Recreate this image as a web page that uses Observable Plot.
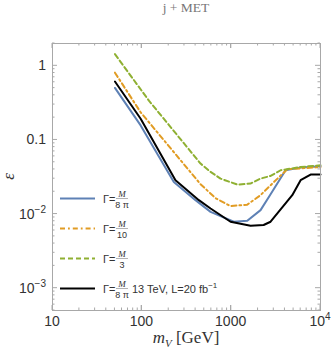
<!DOCTYPE html>
<html><head><meta charset="utf-8">
<script src="https://cdn.jsdelivr.net/npm/d3@7"></script>
<script src="https://cdn.jsdelivr.net/npm/@observablehq/plot@0.6"></script>
<style>body{margin:0;background:#fff} svg{display:block}</style>
</head><body><div id="chart"></div>
<script>
// Data (m_V in GeV, epsilon)
const massBlue = [50, 97, 228, 399, 588, 1072, 1514, 2133, 2762, 4064, 5988, 10000];
const epsBlue  = [0.503, 0.157, 0.0271, 0.0154, 0.0107, 0.00788, 0.00813, 0.0113, 0.0185, 0.0390, 0.0424, 0.0441];
const massOrange = [50, 97, 454, 668, 984, 1514, 2133, 2762, 4250, 10000];
const epsOrange  = [0.808, 0.236, 0.0253, 0.0164, 0.0128, 0.0134, 0.0180, 0.0245, 0.0402, 0.0431];
const massGreen = [50, 120, 454, 588, 760, 1169, 1648, 2133, 2762, 3575, 5988, 10000];
const epsGreen  = [1.436, 0.339, 0.048, 0.037, 0.0301, 0.0250, 0.0258, 0.0301, 0.0327, 0.0390, 0.0431, 0.0455];
const massBlack = [50, 97, 238, 435, 588, 984, 1648, 2307, 2762, 4830, 5988, 7743, 10000];
const epsBlack  = [0.614, 0.193, 0.0286, 0.0154, 0.0119, 0.00788, 0.00697, 0.00712, 0.00788, 0.0180, 0.0286, 0.0341, 0.0341];

const xTicks = [10, 100, 1000, 10000];
const xTickLabels = [["10",""], ["100",""], ["1000",""], ["10","4"]];
const yTicks = [1, 0.1, 0.01, 0.001];
const yTickLabels = [["1",""], ["0.1",""], ["10","\u22122"], ["10","\u22123"]];

const seriesNames = ["w8pi", "w10", "w3", "w8pi13"];
const seriesColors = ["#5E81B5", "#E19C24", "#8FB032", "#000000"];
const seriesDash = [null, "5,3,1.8,3", "5,3", null];
const legendDen = ["8 \u03C0", "10", "3", "8 \u03C0"];
const legendExtra = ["", "", "", "13 TeV, L=20 fb"];

const seriesMass = [massBlue, massOrange, massGreen, massBlack];
const seriesEps = [epsBlue, epsOrange, epsGreen, epsBlack];
const rows = seriesNames.flatMap((s, j) => seriesMass[j].map((m, i) => ({s, m, e: seriesEps[j][i]})));

const W = 332, H = 356, ML = 52, MR = 12, MT = 43, MB = 46;
const plot = Plot.plot({
  width: W, height: H, marginLeft: ML, marginRight: MR, marginTop: MT, marginBottom: MB,
  style: {background: "#fff"},
  x: {type: "log", domain: [10, 10000], axis: null},
  y: {type: "log", domain: [5e-4, 2], axis: null},
  marks: [
    ...seriesNames.map((s, j) => Plot.line(rows.filter(d => d.s === s), {
      x: "m", y: "e", stroke: seriesColors[j], strokeWidth: 2,
      strokeDasharray: seriesDash[j], strokeLinejoin: "round"
    })),
    Plot.frame({stroke: "#a8a8a8", strokeWidth: 1})
  ]
});
document.getElementById("chart").appendChild(plot);

const svg = d3.select(plot);
const sx = plot.scale("x"), sy = plot.scale("y");
const x0 = ML, x1 = W - MR, y0 = MT, y1 = H - MB;
const tg = svg.append("g").attr("stroke", "#a8a8a8").attr("stroke-width", 1);
for (const d of [10, 100, 1000]) for (let k = 1; k <= 10; k++) {
  const v = d * k; if (v > 10000) continue;
  const px = sx.apply(v), len = (k === 1 || k === 10) ? 5 : 2.5;
  tg.append("line").attr("x1", px).attr("x2", px).attr("y1", y1).attr("y2", y1 - len);
  tg.append("line").attr("x1", px).attr("x2", px).attr("y1", y0).attr("y2", y0 + len);
}
for (const d of [1e-4, 1e-3, 1e-2, 1e-1, 1]) for (let k = 1; k <= 9; k++) {
  const v = d * k; if (v < 5e-4 || v > 2) continue;
  const py = sy.apply(v), len = k === 1 ? 5 : 2.5;
  tg.append("line").attr("y1", py).attr("y2", py).attr("x1", x0).attr("x2", x0 + len);
  tg.append("line").attr("y1", py).attr("y2", py).attr("x1", x1).attr("x2", x1 - len);
}
const sans = "'Liberation Sans', Arial, sans-serif";
const serif = "'Liberation Serif', 'Times New Roman', serif";
xTicks.forEach((v, i) => {
  const t = svg.append("text").attr("x", sx.apply(v)).attr("y", 326).attr("text-anchor", "middle")
    .attr("font-family", sans).attr("font-size", 14).attr("fill", "#333");
  t.append("tspan").text(xTickLabels[i][0]);
  if (xTickLabels[i][1]) t.append("tspan").attr("dy", -6).attr("font-size", 10).text(xTickLabels[i][1]);
});
yTicks.forEach((v, i) => {
  const t = svg.append("text").attr("x", 46).attr("y", sy.apply(v) + 5).attr("text-anchor", "end")
    .attr("font-family", sans).attr("font-size", 14).attr("fill", "#333");
  t.append("tspan").text(yTickLabels[i][0]);
  if (yTickLabels[i][1]) t.append("tspan").attr("dy", -6).attr("font-size", 10).text(yTickLabels[i][1]);
});
svg.append("text").attr("x", (x0 + x1) / 2).attr("y", 12).attr("text-anchor", "middle")
  .attr("font-family", serif).attr("font-size", 13.5).attr("fill", "#777").text("j + MET");
const xl = svg.append("text").attr("x", (x0 + x1) / 2).attr("y", 343).attr("text-anchor", "middle")
  .attr("font-family", serif).attr("font-size", 17).attr("fill", "#333");
xl.append("tspan").attr("font-style", "italic").text("m");
xl.append("tspan").attr("font-style", "italic").attr("font-size", 11).attr("dy", 4).text("V");
xl.append("tspan").attr("dy", -4).text(" [GeV]");
svg.append("text").attr("transform", `translate(14,${(y0 + y1) / 2}) rotate(-90)`).attr("text-anchor", "middle")
  .attr("font-family", serif).attr("font-style", "italic").attr("font-size", 17).attr("fill", "#333").text("\u03B5");
const lg = svg.append("g");
seriesNames.forEach((s, j) => {
  const ly = 198.5 + 30 * j;
  lg.append("line").attr("x1", 60).attr("x2", 95).attr("y1", ly).attr("y2", ly)
    .attr("stroke", seriesColors[j]).attr("stroke-width", 2).attr("stroke-dasharray", seriesDash[j]);
  lg.append("text").attr("x", 103).attr("y", ly + 4).attr("text-anchor", "start").attr("font-family", sans).attr("font-size", 11)
    .attr("fill", "#333").text("\u0393=");
  const fx = 122;
  lg.append("text").attr("x", fx).attr("y", ly - 1.5).attr("text-anchor", "middle").attr("font-family", serif)
    .attr("font-style", "italic").attr("font-size", 9).attr("fill", "#333").text("M");
  lg.append("line").attr("x1", fx - 6).attr("x2", fx + 6).attr("y1", ly).attr("y2", ly)
    .attr("stroke", "#666").attr("stroke-width", 0.5);
  lg.append("text").attr("x", fx).attr("y", ly + 9).attr("text-anchor", "middle")
    .attr("font-family", sans).attr("font-size", 9).attr("fill", "#333").text(legendDen[j]);
  if (legendExtra[j]) {
    const t = lg.append("text").attr("x", 132).attr("y", ly + 4).attr("text-anchor", "start")
      .attr("font-family", sans).attr("font-size", 11).attr("fill", "#333");
    t.append("tspan").text(legendExtra[j]);
    t.append("tspan").attr("dy", -5).attr("font-size", 8).text("\u22121");
  }
});
</script></body></html>
